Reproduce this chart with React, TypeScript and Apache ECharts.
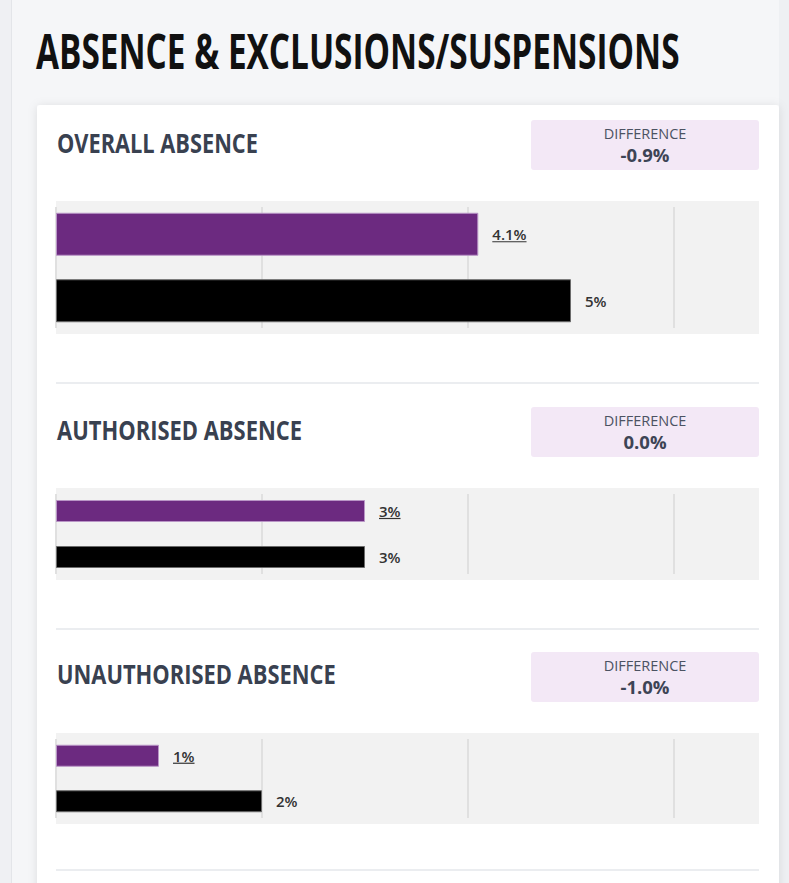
import React, { useEffect, useRef } from "react";
import * as echarts from "echarts";

// ---------- data ----------
const pageTitle = "ABSENCE & EXCLUSIONS/SUSPENSIONS";
const sectionTitles = ["OVERALL ABSENCE", "AUTHORISED ABSENCE", "UNAUTHORISED ABSENCE"];
const rowNames = ["School", "National"];
const schoolValues = [4.1, 3, 1];
const nationalValues = [5, 3, 2];
const schoolLabels = ["4.1%", "3%", "1%"];
const nationalLabels = ["5%", "3%", "2%"];
const differenceCaption = "DIFFERENCE";
const differenceValues = ["-0.9%", "0.0%", "-1.0%"];
const axisMax = 6;
const axisInterval = 2;

// ---------- layout / style ----------
const W = 789;
const H = 883;
const PLOT_LEFT = 56;
const PLOT_RIGHT = 759;
const LINES_RIGHT = 674;
const PURPLE = "#6c2a80";
const SLATE = "#394150";
const CONDENSED = "'Liberation Sans Narrow', 'Open Sans', sans-serif";

const layout = [
  { titleY: 142.5, titleW: 201, boxTop: 120, plotTop: 201, plotH: 133, lineTop: 207, lineH: 121, barW: 43, sepY: 383 },
  { titleY: 430, titleW: 245, boxTop: 407, plotTop: 488, plotH: 92, lineTop: 494, lineH: 80, barW: 22, sepY: 629 },
  { titleY: 673.5, titleW: 279, boxTop: 652, plotTop: 733, plotH: 91, lineTop: 739, lineH: 79, barW: 22, sepY: 870 },
];

let measureCtx: CanvasRenderingContext2D | null = null;
function measure(text: string, font: string): number {
  if (!measureCtx) measureCtx = document.createElement("canvas").getContext("2d");
  if (!measureCtx) return text.length * 8;
  measureCtx.font = font;
  return measureCtx.measureText(text).width;
}

function fittedText(text: string, x: number, y: number, size: number, target: number, fill: string) {
  const font = `bold ${size}px ${CONDENSED}`;
  const w = measure(text, font);
  return {
    type: "text",
    x,
    y,
    scaleX: target / w,
    style: {
      text,
      fill,
      fontSize: size,
      fontWeight: "bold",
      fontFamily: CONDENSED,
      align: "left",
      verticalAlign: "middle",
    },
  };
}

const LABEL_FONT_SIZE = 15;
const LABEL_FONT = `600 ${LABEL_FONT_SIZE}px 'Open Sans'`;

export default function App() {
  const ref = useRef<HTMLDivElement>(null);

  useEffect(() => {
    if (!ref.current) return;
    const chart = echarts.init(ref.current, null, { renderer: "svg", width: W, height: H });

    const grids: any[] = [];
    const xAxes: any[] = [];
    const yAxes: any[] = [];
    const series: any[] = [];
    const graphics: any[] = [];

    // card
    graphics.push({
      type: "rect",
      z: -10,
      shape: { x: 37, y: 105, width: 742, height: 820, r: 3 },
      style: { fill: "#ffffff", shadowBlur: 10, shadowColor: "rgba(0,0,0,0.10)", shadowOffsetY: 1 },
    });
    graphics.push({ type: "rect", z: -11, shape: { x: 0, y: 0, width: 11, height: H }, style: { fill: "#eff0f3" } });
    graphics.push({ type: "line", z: -11, shape: { x1: 11.5, y1: 0, x2: 11.5, y2: H }, style: { stroke: "#e3e5e9", lineWidth: 1 } });
    graphics.push({ type: "rect", z: -11, shape: { x: 779, y: 0, width: 10, height: H }, style: { fill: "#eef0f3" } });

    graphics.push(fittedText(pageTitle, 36, 50.5, 48, 644, "#111111"));

    const barMax = axisMax * ((PLOT_RIGHT - PLOT_LEFT) / (LINES_RIGHT - PLOT_LEFT));

    layout.forEach((L, i) => {
      graphics.push(fittedText(sectionTitles[i], 57, L.titleY, 26, L.titleW, SLATE));
      graphics.push({
        type: "rect",
        shape: { x: 531, y: L.boxTop, width: 228, height: 50, r: 3 },
        style: { fill: "#f3e8f6" },
      });
      graphics.push({
        type: "text",
        x: 645,
        y: L.boxTop + 13.5,
        style: {
          text: differenceCaption,
          fill: "#4b5262",
          fontSize: 14.5,
          fontFamily: "'Open Sans', sans-serif",
          align: "center",
          verticalAlign: "middle",
        },
      });
      graphics.push({
        type: "text",
        x: 645,
        y: L.boxTop + 34,
        style: {
          text: differenceValues[i],
          fill: "#3d4455",
          fontSize: 18.5,
          fontWeight: "bold",
          fontFamily: "'Open Sans', sans-serif",
          align: "center",
          verticalAlign: "middle",
        },
      });
      graphics.push({
        type: "line",
        shape: { x1: PLOT_LEFT, y1: L.sepY, x2: PLOT_RIGHT, y2: L.sepY },
        style: { stroke: "#e5e7eb", lineWidth: 1.5 },
      });

      const gBar = 2 * i;
      const gLine = 2 * i + 1;
      grids.push({
        left: PLOT_LEFT,
        top: L.plotTop,
        width: PLOT_RIGHT - PLOT_LEFT,
        height: L.plotH,
        show: true,
        backgroundColor: "#f2f2f2",
        borderWidth: 0,
      });
      grids.push({
        left: PLOT_LEFT,
        top: L.lineTop,
        width: LINES_RIGHT - PLOT_LEFT,
        height: L.lineH,
        show: false,
      });
      xAxes.push({ type: "value", gridIndex: gBar, min: 0, max: barMax, show: false });
      xAxes.push({
        type: "value",
        gridIndex: gLine,
        min: 0,
        max: axisMax,
        interval: axisInterval,
        z: 1,
        axisLine: { show: false },
        axisTick: { show: false },
        axisLabel: { show: false },
        splitLine: { show: true, lineStyle: { color: "#e0e0e0", width: 2 } },
      });
      yAxes.push({ type: "category", gridIndex: gBar, data: rowNames, inverse: true, show: false });
      yAxes.push({ type: "value", gridIndex: gLine, min: 0, max: 1, show: false });

      series.push({
        type: "bar",
        xAxisIndex: gBar,
        yAxisIndex: gBar,
        barWidth: L.barW,
        z: 3,
        data: [
          { value: schoolValues[i], itemStyle: { color: PURPLE, borderColor: "#b995c6", borderWidth: 1 } },
          { value: nationalValues[i], itemStyle: { color: "#000000", borderColor: "#6b6b6b", borderWidth: 1 } },
        ],
      });

      const labels = [schoolLabels[i], nationalLabels[i]];
      series.push({
        type: "custom",
        xAxisIndex: gBar,
        yAxisIndex: gBar,
        z: 4,
        encode: { x: 0, y: 1 },
        data: [
          [schoolValues[i], 0],
          [nationalValues[i], 1],
        ],
        renderItem: (params: any, api: any) => {
          const p = api.coord([api.value(0), api.value(1)]);
          const text = labels[params.dataIndex];
          const x = p[0] + 14;
          const y = p[1];
          const children: any[] = [
            {
              type: "text",
              x,
              y,
              style: {
                text,
                fill: "#333333",
                fontSize: LABEL_FONT_SIZE,
                fontWeight: 600,
                fontFamily: "'Open Sans', sans-serif",
                align: "left",
                verticalAlign: "middle",
              },
            },
          ];
          if (params.dataIndex === 0) {
            const w = measure(text, LABEL_FONT);
            children.push({
              type: "line",
              shape: { x1: x, y1: y + 7.5, x2: x + w, y2: y + 7.5 },
              style: { stroke: "#333333", lineWidth: 1.2 },
            });
          }
          return { type: "group", children };
        },
      });
    });

    chart.setOption({
      animation: false,
      backgroundColor: "transparent",
      grid: grids,
      xAxis: xAxes,
      yAxis: yAxes,
      series,
      graphic: { elements: graphics },
    });

    return () => chart.dispose();
  }, []);

  return (
    <div
      ref={ref}
      style={{ position: "fixed", left: 0, top: 0, width: W, height: H, background: "#f5f6f8" }}
    />
  );
}
